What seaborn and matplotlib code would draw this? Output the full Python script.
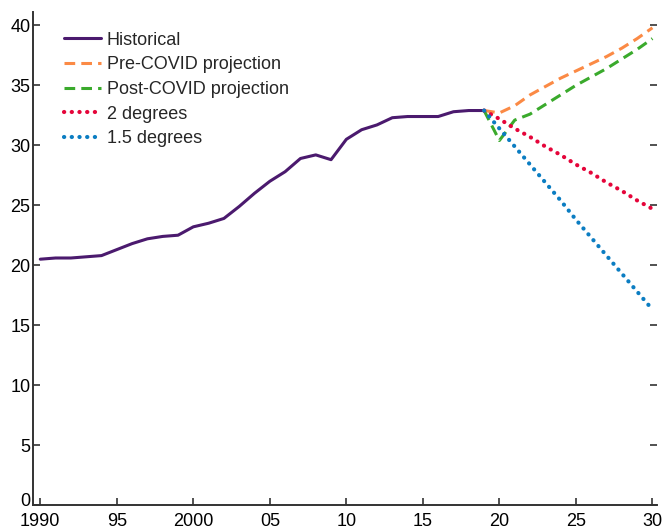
import numpy as np
import pandas as pd
import matplotlib
matplotlib.use("Agg")
import matplotlib.pyplot as plt
import matplotlib.transforms as mtransforms
import seaborn as sns

# values
hist_years = list(range(1990, 2020))
historical = [20.5, 20.6, 20.6, 20.7, 20.8, 21.3, 21.8, 22.2, 22.4, 22.5,
              23.2, 23.5, 23.9, 24.9, 26.0, 27.0, 27.8, 28.9, 29.2, 28.8,
              30.5, 31.3, 31.7, 32.3, 32.4, 32.4, 32.4, 32.8, 32.9, 32.9]

proj_years = list(range(2019, 2031))
pre_covid = [32.9, 32.7, 33.3, 34.2, 34.9, 35.6, 36.2, 36.8, 37.4, 38.1, 38.9, 39.8]
post_covid = [32.9, 30.4, 32.1, 32.6, 33.4, 34.2, 35.0, 35.7, 36.4, 37.2, 38.0, 38.9]
two_deg = [32.9, 32.2, 31.4, 30.7, 29.9, 29.2, 28.4, 27.7, 26.9, 26.2, 25.4, 24.7]
one_five_deg = [32.9, 31.4, 29.9, 28.4, 26.9, 25.4, 23.8, 22.3, 20.8, 19.3, 17.8, 16.3]

tick_years = [1990, 1995, 2000, 2005, 2010, 2015, 2020, 2025, 2030]
tick_labels = ["1990", "95", "2000", "05", "10", "15", "20", "25", "30"]

sns.set_style("ticks")
plt.rcParams["font.family"] = ["Liberation Sans", "DejaVu Sans"]

hist_df = pd.DataFrame({"year": hist_years, "value": historical})
proj_df = pd.DataFrame({"year": proj_years, "pre": pre_covid, "post": post_covid,
                        "two": two_deg, "onefive": one_five_deg})

fig = plt.figure(figsize=(6.65, 5.31), dpi=100)
ax = fig.add_axes([0.05, 0.049, 0.938, 0.928])

sns.lineplot(data=hist_df, x="year", y="value", ax=ax, color="#4b1a6e",
             lw=2.2, label="Historical")
sns.lineplot(data=proj_df, x="year", y="pre", ax=ax, color="#fb8a45",
             lw=2.2, linestyle=(0, (3.5, 2)), label="Pre-COVID projection")
sns.lineplot(data=proj_df, x="year", y="post", ax=ax, color="#3aaa2c",
             lw=2.2, linestyle=(0, (3.5, 2)), label="Post-COVID projection")
sns.lineplot(data=proj_df, x="year", y="two", ax=ax, color="#e5053a",
             lw=3, linestyle=(0, (0.05, 1.8)), dash_capstyle="round", label="2 degrees")
sns.lineplot(data=proj_df, x="year", y="onefive", ax=ax, color="#0b7dc2",
             lw=3, linestyle=(0, (0.05, 1.8)), dash_capstyle="round", label="1.5 degrees")

ax.set_xlim(1989.54, 2030.3)
ax.set_ylim(0, 41.1)
ax.set_xticks(tick_years)
ax.set_xticklabels(tick_labels)
ax.set_yticks(range(0, 41, 5))
ax.set_xlabel("")
ax.set_ylabel("")

sns.despine(ax=ax, top=True, right=True)
for side in ["left", "bottom"]:
    ax.spines[side].set_linewidth(1.4)
    ax.spines[side].set_color("#333333")
ax.tick_params(axis="both", direction="in", length=5, width=1.2, labelsize=13,
               colors="#333333", labelcolor="black")
ax.tick_params(axis="y", right=True, pad=2)
ax.tick_params(axis="x", pad=6)

# nudge the "0" label up a little so it clears "1990"
zero_lbl = ax.get_yticklabels()[0]
zero_lbl.set_transform(zero_lbl.get_transform() +
                       mtransforms.ScaledTranslation(0, 4 / 72, fig.dpi_scale_trans))

leg = ax.legend(loc="upper left", bbox_to_anchor=(0.037, 0.975), frameon=False,
                fontsize=13, handlelength=2.1, handletextpad=0.3, labelspacing=0.42,
                borderaxespad=0)

fig.savefig("out.png", dpi=100)
